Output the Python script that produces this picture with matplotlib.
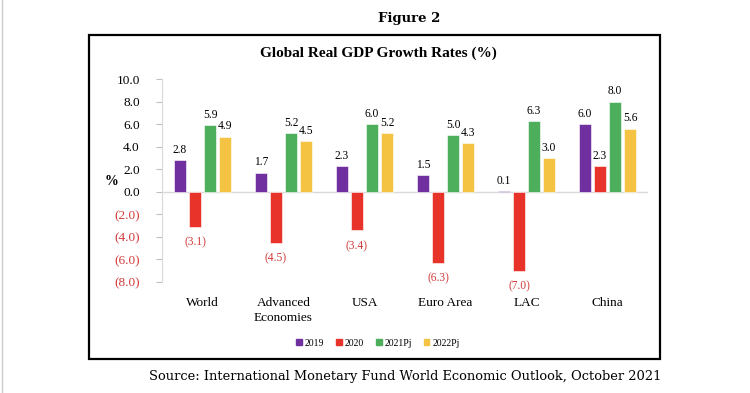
import numpy as np
import matplotlib
matplotlib.use("Agg")
import matplotlib.pyplot as plt
from matplotlib.patches import Rectangle
from matplotlib.lines import Line2D

# data
categories = ["World", "Advanced\nEconomies", "USA", "Euro Area", "LAC", "China"]
series_names = ["2019", "2020", "2021Pj", "2022Pj"]
v2019 = [2.8, 1.7, 2.3, 1.5, 0.1, 6.0]
v2020 = [-3.1, -4.5, -3.4, -6.3, -7.0, 2.3]
v2021 = [5.9, 5.2, 6.0, 5.0, 6.3, 8.0]
v2022 = [4.9, 4.5, 5.2, 4.3, 3.0, 5.6]
yticks = [10, 8, 6, 4, 2, 0, -2, -4, -6, -8]

colors = ["#7030A0", "#E8332A", "#4DAE5B", "#F4C343"]
neg_red = "#D23A3A"
serif = "Liberation Serif"

fig = plt.figure(figsize=(7.5, 3.93), dpi=100)
ax = fig.add_axes([0.216, 0.2824, 0.648, 0.5165])

x = np.arange(len(categories))
offsets = [-0.278, -0.093, 0.093, 0.278]
width = 0.15

for vals, off, col in zip([v2019, v2020, v2021, v2022], offsets, colors):
    bars = ax.bar(x + off, vals, width, color=col, edgecolor="white", linewidth=0.4)
    for b, v in zip(bars, vals):
        cx = b.get_x() + b.get_width() / 2
        if v >= 0:
            ax.annotate(f"{v:.1f}", (cx, v), xytext=(0, 3), textcoords="offset points",
                        ha="center", va="bottom", fontsize=8.3, family=serif, color="black")
        else:
            ax.annotate(f"({-v:.1f})", (cx, v), xytext=(0, -7), textcoords="offset points",
                        ha="center", va="top", fontsize=8.3, family=serif, color=neg_red)

ax.set_xlim(-0.5, len(categories) - 0.5)
ax.set_ylim(-8, 10)
ax.axhline(0, color="#D9D9D9", linewidth=1, zorder=0)

ax.set_yticks(yticks)
ax.set_yticklabels([f"{t:.1f}" if t >= 0 else f"({-t:.1f})" for t in yticks],
                   family=serif, fontsize=9.5)
for lab, t in zip(ax.get_yticklabels(), yticks):
    lab.set_color("black" if t >= 0 else neg_red)
ax.tick_params(axis="y", length=4, color="#BFBFBF", pad=12)

ax.set_xticks(x)
ax.set_xticklabels(categories, family=serif, fontsize=9.5, linespacing=1.25)
ax.tick_params(axis="x", length=0, pad=11)

for s in ["top", "right", "bottom"]:
    ax.spines[s].set_visible(False)
ax.spines["left"].set_color("#D9D9D9")

fig.text(0.149, 0.537, "%", family=serif, fontsize=10, fontweight="bold",
         ha="center", va="center")

fig.text(0.504, 0.865, "Global Real GDP Growth Rates (%)", family=serif,
         fontsize=11, fontweight="bold", ha="center", va="center")

fig.text(0.545, 0.954, "Figure 2", family="DejaVu Serif", fontsize=9.5,
         fontweight="bold", ha="center", va="center")

fig.text(0.54, 0.043, "Source: International Monetary Fund World Economic Outlook, October 2021",
         family="DejaVu Serif", fontsize=9.35, ha="center", va="center")

# frame around the chart
fig.patches.append(Rectangle((0.1187, 0.0865), 0.761, 0.824, transform=fig.transFigure,
                             fill=False, edgecolor="black", linewidth=1.6))
fig.lines.append(Line2D([0.002, 0.002], [0, 1], transform=fig.transFigure,
                        color="#CCCCCC", linewidth=1))

handles = [Rectangle((0, 0), 1, 1, color=c) for c in colors]
fig.legend(handles, series_names, loc="center", bbox_to_anchor=(0.504, 0.127), ncol=4,
           frameon=False, prop={"family": serif, "size": 7}, handlelength=0.6,
           handleheight=0.6, handletextpad=0.3, columnspacing=1.2)

fig.savefig("out.png", dpi=100)
